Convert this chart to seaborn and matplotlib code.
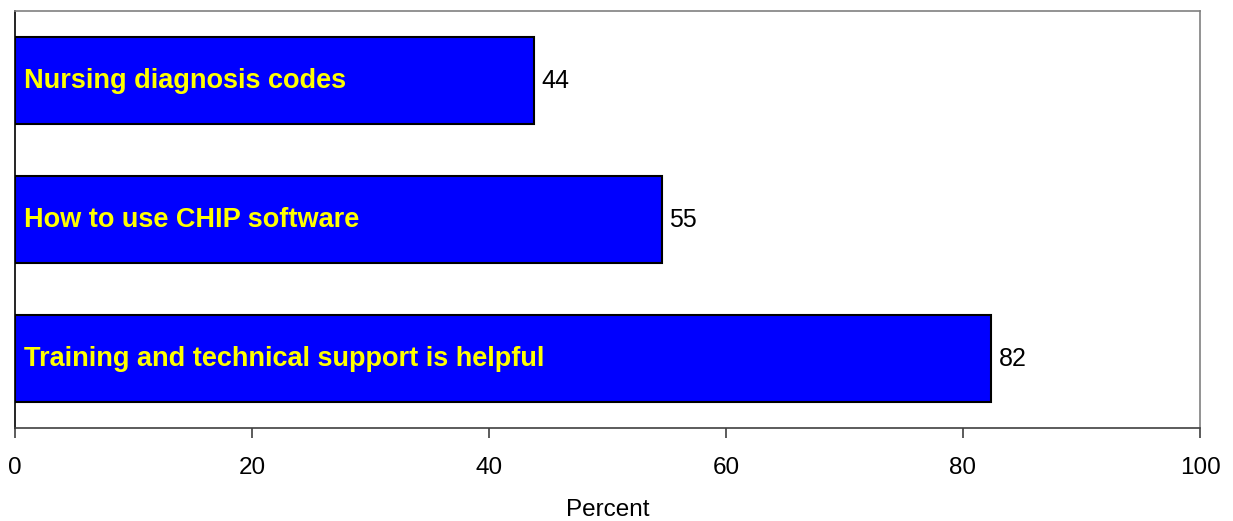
import matplotlib
matplotlib.use("Agg")
import matplotlib.pyplot as plt
import seaborn as sns
import pandas as pd

# Survey items and the share of respondents (percent)
items = [
    "Nursing diagnosis codes",
    "How to use CHIP software",
    "Training and technical support is helpful",
]
percent = [43.8, 54.6, 82.4]
x_ticks = [0, 20, 40, 60, 80, 100]

sns.set_theme(style="white")
plt.rcParams["font.family"] = ["Liberation Sans", "DejaVu Sans"]

df = pd.DataFrame({"item": items, "percent": percent})

fig = plt.figure(figsize=(12.33, 5.21), dpi=100)
ax = fig.add_axes([15 / 1233, 1 - 428 / 521, (1200 - 15) / 1233, (428 - 11) / 521])

sns.barplot(data=df, x="percent", y="item", orient="h", order=items,
            color="#0000FF", saturation=1, width=0.62,
            edgecolor="black", linewidth=1.5, ax=ax)

ax.set_xlim(0, 100)
ax.set_ylim(2.5, -0.5)
ax.set_xticks(x_ticks)
ax.set_xticklabels([str(t) for t in x_ticks], fontsize=17.5, color="black")
ax.tick_params(axis="x", bottom=True, direction="out", length=7, width=1.2,
               color="#404040", pad=14)
ax.set_yticks([])
ax.set_ylabel("")
ax.set_xlabel("Percent", fontsize=17.5, color="black", labelpad=14)

for name, sp in ax.spines.items():
    sp.set_visible(True)
    sp.set_linewidth(1.2)
ax.spines["top"].set_color("#808080")
ax.spines["right"].set_color("#808080")
ax.spines["left"].set_color("black")
ax.spines["bottom"].set_color("#404040")

# Item names inside the bars and rounded values beyond the bar ends
for i, (name, val) in enumerate(zip(items, percent)):
    ax.text(0.8, i, name, color="#FFFF00", fontsize=19.5, fontweight="bold",
            va="center", ha="left")
    ax.text(val + 0.6, i, f"{round(val):d}", color="black", fontsize=18,
            va="center", ha="left")

fig.savefig("out.png", dpi=100, facecolor="white")
